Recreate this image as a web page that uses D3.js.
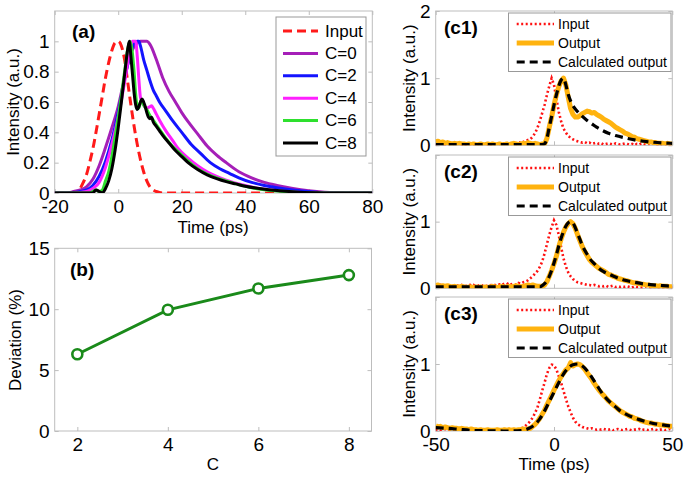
<!DOCTYPE html>
<html><head><meta charset="utf-8">
<script src="https://cdn.jsdelivr.net/npm/d3@7"></script>
<style>body{margin:0;background:#fff} text{font-family:"Liberation Sans",Arial,sans-serif}</style>
</head><body><svg id="chart" width="685" height="477"></svg>
<script>
// ---------- Panel (a) data: [time ps, intensity] ----------
const aInput = [[-20,0],[-14,0],[-13,0.01],[-12,0.03],[-11,0.07],[-10,0.12],[-9,0.2],[-8,0.29],[-7,0.4],[-6,0.52],[-5,0.64],[-4,0.76],[-3,0.86],[-2,0.94],[-1,0.99],[0,1],[1,0.97],[2,0.88],[3,0.73],[4,0.58],[5,0.44],[6,0.32],[7,0.22],[8,0.14],[9,0.08],[10,0.04],[11,0.02],[12,0.01],[14,0],[80,0]];
const aC0 = [[-20,0],[-16,0],[-14,0.01],[-12,0.02],[-10,0.04],[-8,0.09],[-6,0.18],[-4,0.3],[-2,0.43],[0,0.57],[2,0.76],[4,0.92],[6,0.99],[7,1],[9,1],[10,0.98],[12,0.88],[14,0.76],[16,0.67],[18,0.6],[20,0.53],[22,0.47],[25,0.39],[28,0.31],[31,0.25],[34,0.2],[38,0.14],[42,0.1],[46,0.07],[50,0.05],[55,0.03],[60,0.015],[65,0.005],[70,0],[80,0]];
const aC2 = [[-20,0],[-15,0],[-12,0.01],[-10,0.02],[-8,0.05],[-6,0.11],[-4,0.21],[-2,0.35],[0,0.53],[2,0.75],[3,0.85],[4,0.93],[5,0.99],[6,1],[6.5,1],[7,0.97],[8,0.88],[9,0.81],[10,0.74],[11,0.68],[12,0.64],[13,0.6],[15,0.54],[17,0.48],[20,0.4],[23,0.32],[26,0.26],[29,0.2],[32,0.16],[35,0.13],[38,0.1],[42,0.07],[46,0.05],[50,0.035],[55,0.02],[60,0.01],[66,0],[80,0]];
const aC4 = [[-20,0],[-14,0],[-10,0.01],[-8,0.03],[-6,0.07],[-4,0.17],[-2,0.32],[0,0.5],[1,0.61],[2,0.73],[3,0.86],[4,0.97],[4.5,1],[5.5,1],[6,0.9],[6.5,0.75],[7,0.63],[8,0.58],[9,0.56],[10,0.57],[10.5,0.575],[11,0.56],[12,0.52],[13,0.48],[15,0.41],[17,0.35],[19,0.29],[22,0.23],[25,0.18],[28,0.14],[31,0.11],[34,0.085],[38,0.06],[42,0.04],[46,0.025],[50,0.015],[56,0.005],[62,0],[80,0]];
const aC6 = [[-20,0],[-9,0],[-8,0.01],[-7,0.02],[-6,0.01],[-5,0.02],[-4,0.08],[-3,0.14],[-2,0.24],[-1,0.37],[0,0.5],[1,0.64],[2,0.8],[3,0.95],[3.7,1],[4.3,0.95],[5,0.8],[5.5,0.65],[6,0.57],[6.5,0.56],[7,0.6],[7.5,0.61],[8,0.58],[9,0.55],[10,0.51],[11,0.48],[12,0.45],[13,0.42],[15,0.36],[17,0.31],[19,0.27],[22,0.21],[25,0.16],[28,0.125],[31,0.1],[34,0.08],[38,0.055],[42,0.035],[46,0.022],[50,0.013],[56,0.005],[62,0],[80,0]];
const aC8 = [[-20,0],[-8,0],[-7,0.02],[-6,0.01],[-5,0],[-4,0.03],[-3,0.08],[-2,0.16],[-1,0.28],[0,0.43],[1,0.6],[2,0.78],[3,0.95],[3.5,1],[4,0.9],[4.5,0.78],[5,0.66],[5.5,0.58],[6,0.55],[6.5,0.57],[7,0.6],[7.5,0.62],[8,0.6],[8.5,0.57],[9,0.53],[9.5,0.5],[10,0.49],[10.5,0.5],[11,0.47],[12,0.44],[13,0.41],[14,0.38],[16,0.33],[18,0.28],[20,0.24],[22,0.2],[25,0.155],[28,0.12],[31,0.095],[34,0.075],[37,0.06],[40,0.045],[45,0.028],[50,0.016],[56,0.007],[62,0.002],[66,0],[80,0]];
const aLabels = ["Input","C=0","C=2","C=4","C=6","C=8"];
const aXTicks = [-20,0,20,40,60,80];
const aYTicks = [0,0.2,0.4,0.6,0.8,1];

// ---------- Panel (b) data ----------
const bC = [2,4,6,8];
const bDeviation = [6.3,9.95,11.7,12.8];
const bXTicks = [2,4,6,8];
const bYTicks = [0,5,10,15];

// ---------- Panels (c1)-(c3): sampled every 1 ps from -50 to 50 ----------
const cTime = d3.range(-50,51,1);
const c1Input = [0.02,0.01,0.03,0.02,0.00,0.01,0.02,0.03,0.01,0.02, 0.03,0.01,0.02,0.00,0.01,0.02,0.01,0.03,0.02,0.01, 0.02,0.03,0.01,0.02,0.00,0.02,0.03,0.02,0.01,0.03, 0.02,0.04,0.02,0.03,0.02,0.05,0.03,0.05,0.06,0.08, 0.09,0.13,0.18,0.26,0.36,0.48,0.60,0.75,0.88,1.00, 0.90,0.70,0.50,0.36,0.25,0.19,0.14,0.11,0.09,0.07, 0.06,0.05,0.04,0.05,0.03,0.04,0.02,0.03,0.04,0.02, 0.03,0.01,0.02,0.03,0.02,0.01,0.03,0.02,0.01,0.02, 0.03,0.02,0.01,0.02,0.00,0.02,0.01,0.03,0.02,0.01, 0.02,0.01,0.03,0.02,0.01,0.02,0.00,0.01,0.02,0.01,0.02];
const c1Output = [0.05,0.06,0.04,0.05,0.03,0.04,0.03,0.02,0.03,0.02, 0.03,0.02,0.02,0.01,0.02,0.01,0.02,0.01,0.01,0.02, 0.01,0.01,0.02,0.01,0.02,0.01,0.01,0.02,0.01,0.01, 0.02,0.01,0.02,0.03,0.02,0.01,0.02,0.03,0.02,0.04, 0.03,0.02,0.03,0.02,0.01,0.02,0.02,0.10,0.27,0.42, 0.60,0.75,0.87,0.96,1.00,0.90,0.72,0.55,0.46,0.42, 0.42,0.44,0.47,0.49,0.51,0.50,0.48,0.49,0.46,0.44, 0.42,0.39,0.37,0.35,0.33,0.30,0.27,0.25,0.23,0.21, 0.18,0.17,0.15,0.13,0.12,0.10,0.09,0.08,0.07,0.06, 0.05,0.05,0.04,0.04,0.03,0.03,0.03,0.02,0.03,0.02,0.02];
const c1Calc = [[-50,0.01],[-5,0.01],[-4,0.02],[-3,0.1],[-2,0.27],[-1,0.43],[0,0.6],[1,0.75],[2,0.88],[3,0.97],[4,1.0],[5,0.9],[6,0.76],[7,0.66],[8,0.59],[9,0.54],[10,0.5],[12,0.43],[14,0.37],[16,0.32],[18,0.27],[20,0.23],[23,0.18],[26,0.145],[30,0.11],[34,0.08],[38,0.06],[42,0.045],[46,0.035],[50,0.03]];
const c2Input = [0.04,0.03,0.05,0.04,0.03,0.05,0.04,0.03,0.05,0.04, 0.04,0.05,0.03,0.04,0.06,0.04,0.05,0.03,0.04,0.05, 0.04,0.05,0.03,0.04,0.06,0.05,0.04,0.06,0.05,0.07, 0.08,0.05,0.06,0.07,0.05,0.08,0.07,0.09,0.10,0.12, 0.15,0.18,0.22,0.26,0.32,0.40,0.52,0.66,0.80,0.92, 1.02,0.95,0.80,0.62,0.45,0.33,0.24,0.18,0.14,0.11, 0.09,0.08,0.07,0.06,0.05,0.05,0.04,0.05,0.04,0.03, 0.04,0.03,0.04,0.02,0.03,0.04,0.02,0.03,0.02,0.03, 0.02,0.03,0.02,0.01,0.03,0.02,0.02,0.01,0.02,0.03, 0.02,0.01,0.02,0.02,0.01,0.02,0.01,0.02,0.01,0.02,0.01];
const c2Output = [0.04,0.05,0.03,0.04,0.03,0.04,0.03,0.02,0.03,0.02, 0.02,0.03,0.02,0.01,0.02,0.02,0.01,0.02,0.01,0.02, 0.01,0.02,0.01,0.02,0.03,0.02,0.01,0.02,0.03,0.02, 0.02,0.03,0.02,0.03,0.04,0.03,0.02,0.03,0.04,0.05, 0.04,0.05,0.04,0.03,0.03,0.03,0.05,0.10,0.18,0.27, 0.37,0.48,0.62,0.74,0.84,0.92,0.97,1.00,0.97,0.90, 0.80,0.71,0.62,0.55,0.49,0.43,0.39,0.36,0.33,0.30, 0.28,0.26,0.24,0.21,0.20,0.18,0.17,0.15,0.14,0.13, 0.12,0.11,0.10,0.09,0.08,0.08,0.07,0.06,0.06,0.05, 0.05,0.04,0.04,0.04,0.03,0.04,0.03,0.03,0.03,0.02,0.03];
const c2Calc = [[-50,0.02],[-7,0.02],[-6,0.02],[-5,0.04],[-4,0.07],[-3,0.11],[-2,0.18],[-1,0.27],[0,0.38],[1,0.5],[2,0.63],[3,0.75],[4,0.85],[5,0.93],[6,0.98],[7,1.0],[8,0.98],[9,0.91],[10,0.82],[11,0.73],[12,0.64],[13,0.57],[14,0.51],[15,0.45],[17,0.37],[19,0.3],[21,0.25],[24,0.2],[27,0.155],[30,0.12],[34,0.09],[38,0.065],[42,0.05],[46,0.04],[50,0.03]];
const c3Input = [0.02,0.03,0.01,0.02,0.03,0.02,0.01,0.02,0.03,0.02, 0.01,0.02,0.03,0.02,0.01,0.02,0.01,0.02,0.03,0.01, 0.02,0.01,0.02,0.03,0.02,0.01,0.02,0.01,0.02,0.03, 0.02,0.03,0.02,0.01,0.03,0.02,0.04,0.05,0.08,0.11, 0.15,0.20,0.27,0.35,0.47,0.60,0.72,0.85,0.94,0.99, 0.98,0.92,0.82,0.72,0.60,0.48,0.37,0.28,0.20,0.14, 0.10,0.08,0.06,0.05,0.04,0.03,0.04,0.03,0.02,0.03, 0.02,0.03,0.02,0.02,0.03,0.01,0.02,0.03,0.02,0.01, 0.02,0.03,0.02,0.01,0.02,0.02,0.03,0.01,0.02,0.02, 0.01,0.02,0.03,0.02,0.01,0.02,0.02,0.01,0.02,0.03,0.02];
const c3Output = [0.08,0.06,0.07,0.05,0.06,0.05,0.04,0.05,0.04,0.04, 0.03,0.04,0.03,0.03,0.02,0.03,0.02,0.02,0.01,0.02, 0.01,0.01,0.02,0.01,0.01,0.01,0.02,0.01,0.01,0.02, 0.01,0.02,0.01,0.02,0.01,0.02,0.02,0.03,0.02,0.03, 0.04,0.07,0.10,0.14,0.19,0.25,0.31,0.39,0.46,0.53, 0.61,0.68,0.75,0.81,0.86,0.91,0.94,1.02,0.97,0.99, 1.00,0.99,0.96,0.92,0.87,0.82,0.77,0.71,0.66,0.61, 0.57,0.53,0.49,0.45,0.42,0.39,0.36,0.33,0.30,0.28, 0.26,0.24,0.22,0.21,0.19,0.18,0.17,0.15,0.14,0.13, 0.12,0.12,0.11,0.10,0.10,0.09,0.09,0.08,0.08,0.07,0.07];
const c3Calc = [[-50,0.05],[-45,0.04],[-40,0.025],[-35,0.01],[-30,0.005],[-20,0],[-14,0.005],[-12,0.02],[-10,0.05],[-8,0.1],[-6,0.18],[-4,0.3],[-2,0.44],[0,0.58],[2,0.72],[4,0.85],[6,0.94],[8,0.99],[10,1.0],[12,0.97],[14,0.9],[16,0.8],[18,0.69],[20,0.58],[22,0.49],[24,0.42],[26,0.36],[28,0.3],[30,0.26],[33,0.21],[36,0.17],[40,0.13],[44,0.1],[48,0.08],[50,0.07]];
const cLabels = ["Input","Output","Calculated output"];
const cXTicks = [-50,0,50];
const cYTicks = [0,1,2];

// ---------- drawing ----------
const svg = d3.select("#chart");
const FS_TICK = 19, FS_LAB = 17, BOX = "#bdbdbd";
const fmtInt = d => String(d);
let clipId = 0;

function frame(x, y, opt) {
  const [x0,x1] = x.range(), [y1,y0] = y.range();
  const g = svg.append("g");
  g.append("rect").attr("x",x0).attr("y",y0).attr("width",x1-x0).attr("height",y1-y0)
    .attr("fill","#fff").attr("stroke",BOX).attr("stroke-width",1);
  const style = s => { s.select(".domain").remove(); s.selectAll("line").attr("stroke",BOX);
    s.selectAll("text").attr("fill","#000").attr("font-size",FS_TICK).attr("font-family",'"Liberation Sans",Arial,sans-serif'); };
  g.append("g").attr("transform",`translate(0,${y1})`)
    .call(d3.axisBottom(x).tickValues(opt.xt).tickSize(-4).tickPadding(7).tickFormat(opt.xLabels ? opt.xf : () => "")).call(style);
  g.append("g").attr("transform",`translate(0,${y0})`)
    .call(d3.axisTop(x).tickValues(opt.xt).tickSize(-4).tickFormat(() => "")).call(style);
  g.append("g").attr("transform",`translate(${x0},0)`)
    .call(d3.axisLeft(y).tickValues(opt.yt).tickSize(-4).tickPadding(5).tickFormat(opt.yf)).call(style);
  g.append("g").attr("transform",`translate(${x1},0)`)
    .call(d3.axisRight(y).tickValues(opt.yt).tickSize(-4).tickFormat(() => "")).call(style);
  const id = "clip" + (clipId++);
  svg.append("clipPath").attr("id",id).append("rect").attr("x",x0).attr("y",y0).attr("width",x1-x0).attr("height",y1-y0);
  return svg.append("g").attr("clip-path",`url(#${id})`);
}
function ylabel(text, cx, cy) {
  svg.append("text").attr("transform",`translate(${cx},${cy}) rotate(-90)`).attr("text-anchor","middle")
    .attr("dominant-baseline","central").attr("font-size",FS_LAB).text(text);
}
function xlabel(text, cx, cy) {
  svg.append("text").attr("x",cx).attr("y",cy).attr("text-anchor","middle")
    .attr("dominant-baseline","central").attr("font-size",FS_LAB).text(text);
}
function tag(text, x, y) {
  svg.append("text").attr("x",x).attr("y",y).attr("font-size",19).attr("font-weight","bold").text(text);
}

// Panel (a)
const xa = d3.scaleLinear().domain([-20,80]).range([54.7,372.3]);
const ya = d3.scaleLinear().domain([0,1.2]).range([193,11]);
const ga = frame(xa, ya, {xt:aXTicks, yt:aYTicks, xLabels:true, xf:fmtInt, yf:d => d===0||d===1 ? String(d) : d3.format(".1f")(d)});
const la = d3.line().x(d => xa(d[0])).y(d => ya(d[1])).curve(d3.curveMonotoneX);
const aSeries = [
  {data:aInput, color:"#ff1a1a", dash:"9,5"},
  {data:aC0, color:"#a51fb8"},
  {data:aC2, color:"#1414ff"},
  {data:aC4, color:"#ff20ff"},
  {data:aC6, color:"#2ee02e"},
  {data:aC8, color:"#000000"}
];
aSeries.forEach(s => ga.append("path").attr("d",la(s.data)).attr("fill","none").attr("stroke",s.color)
  .attr("stroke-width",3).attr("stroke-dasharray",s.dash||null));
tag("(a)", 72, 38);
const lga = svg.append("g");
lga.append("rect").attr("x",276).attr("y",17).attr("width",90).attr("height",139).attr("fill","#fff").attr("stroke","#999");
aSeries.forEach((s,i) => {
  const yy = 31 + i*22.4;
  lga.append("line").attr("x1",283).attr("x2",318).attr("y1",yy).attr("y2",yy).attr("stroke",s.color)
    .attr("stroke-width",3).attr("stroke-dasharray",s.dash||null);
  lga.append("text").attr("x",325).attr("y",yy).attr("dominant-baseline","central").attr("font-size",FS_LAB).text(aLabels[i]);
});
ylabel("Intensity (a.u.)", 13, 102);
xlabel("Time (ps)", 213, 227);

// Panel (b)
const xb = d3.scaleLinear().domain([1.5,8.5]).range([54.7,371.5]);
const yb = d3.scaleLinear().domain([0,15]).range([431,248.3]);
const gb = frame(xb, yb, {xt:bXTicks, yt:bYTicks, xLabels:true, xf:fmtInt, yf:fmtInt});
const bPts = bC.map((c,i) => [c, bDeviation[i]]);
gb.append("path").attr("d", d3.line().x(d => xb(d[0])).y(d => yb(d[1]))(bPts))
  .attr("fill","none").attr("stroke","#1a8a1a").attr("stroke-width",3);
gb.selectAll("circle").data(bPts).join("circle").attr("cx",d => xb(d[0])).attr("cy",d => yb(d[1])).attr("r",5)
  .attr("fill","#fff").attr("stroke","#1a8a1a").attr("stroke-width",2.6);
tag("(b)", 70, 276);
ylabel("Deviation (%)", 15, 340);
xlabel("C", 213, 464);

// Panels (c)
const xc = d3.scaleLinear().domain([-50,50]).range([435.7,672.3]);
const cPanels = [
  {top:11, bottom:145.3, input:c1Input, output:c1Output, calc:c1Calc, tag:"(c1)", yt:cYTicks, lab:false},
  {top:155, bottom:288.3, input:c2Input, output:c2Output, calc:c2Calc, tag:"(c2)", yt:[0,1], lab:false},
  {top:297, bottom:431, input:c3Input, output:c3Output, calc:c3Calc, tag:"(c3)", yt:[0,1], lab:true}
];
const cStyles = [
  {color:"#ff1010", w:2.6, dash:"2,2.5"},
  {color:"#ffb30f", w:5, dash:null},
  {color:"#000000", w:3.2, dash:"8,5"}
];
cPanels.forEach(p => {
  const yc = d3.scaleLinear().domain([0,2]).range([p.bottom,p.top]);
  const g = frame(xc, yc, {xt:cXTicks, yt:cYTicks, xLabels:p.lab, xf:fmtInt, yf:d => p.yt.includes(d) ? String(d) : ""});
  const lm = d3.line().x((d,i) => xc(cTime[i])).y(d => yc(d));
  const lc = d3.line().x(d => xc(d[0])).y(d => yc(d[1])).curve(d3.curveMonotoneX);
  g.append("path").attr("d",lm(p.input)).attr("fill","none").attr("stroke",cStyles[0].color).attr("stroke-width",cStyles[0].w).attr("stroke-dasharray",cStyles[0].dash);
  g.append("path").attr("d",lm(p.output)).attr("fill","none").attr("stroke",cStyles[1].color).attr("stroke-width",cStyles[1].w).attr("stroke-linejoin","round");
  g.append("path").attr("d",lc(p.calc)).attr("fill","none").attr("stroke",cStyles[2].color).attr("stroke-width",cStyles[2].w).attr("stroke-dasharray",cStyles[2].dash);
  const lg = svg.append("g");
  lg.append("rect").attr("x",508.5).attr("y",p.top+2).attr("width",162.5).attr("height",58.5).attr("fill","#fff").attr("stroke","#999");
  cLabels.forEach((t,i) => {
    const yy = p.top + 13 + i*19;
    lg.append("line").attr("x1",516.7).attr("x2",554).attr("y1",yy).attr("y2",yy).attr("stroke",cStyles[i].color)
      .attr("stroke-width",cStyles[i].w).attr("stroke-dasharray",cStyles[i].dash);
    lg.append("text").attr("x",558).attr("y",yy).attr("dominant-baseline","central").attr("font-size",14).text(t);
  });
  tag(p.tag, 444, p.top + 23);
  ylabel("Intensity (a.u.)", 409, (p.top + p.bottom)/2);
});
xlabel("Time (ps)", 554, 464);
</script></body></html>
